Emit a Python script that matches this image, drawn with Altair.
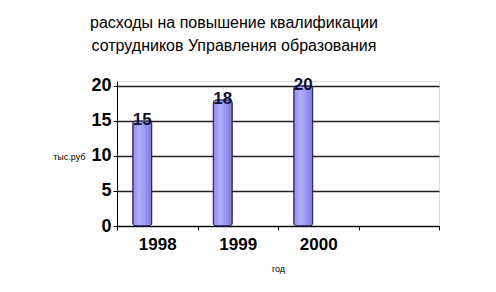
import altair as alt
import pandas as pd

years = ["1998", "1999", "2000", " "]
values = [15, 18, 20, None]
y_ticks = [0, 5, 10, 15, 20]

df = pd.DataFrame({"year": years, "value": values})
bars_df = df.dropna()

x_scale = alt.Scale(domain=years, paddingInner=0, paddingOuter=0)
y_scale = alt.Scale(domain=[0, 20.7], nice=False)

base = alt.Chart(bars_df).encode(
    x=alt.X("year:N", sort=years, scale=x_scale,
            axis=alt.Axis(title="год", titleFontSize=9, titleFont="Arial", titleFontWeight="normal",
                          titlePadding=12, labelFont="Arial", labelFontSize=17, labelFontWeight="bold",
                          labelColor="black", labelAngle=0, labelOffset=0, labelPadding=6,
                          tickBand="extent", tickColor="black", domainColor="black", tickSize=4, grid=False,
                          titleColor="black")),
    y=alt.Y("value:Q", scale=y_scale,
            axis=alt.Axis(values=y_ticks, labelOverlap=False, title="тыс.руб", titleAngle=0, titleFontSize=9,
                          titleFont="Arial", titleFontWeight="normal", titleColor="black",
                          titleAlign="right", titleX=-32, titleY=80,
                          labelFont="Arial", labelFontSize=18, labelFontWeight="bold",
                          labelColor="black", tickColor="black", domainColor="black", tickSize=4,
                          grid=True, gridColor="#222222", gridWidth=1.5, labelPadding=2)),
)

bars = base.mark_bar(
    width=19, xOffset=-15, stroke="#1a1a4a", strokeWidth=1, cornerRadius=3,
    color=alt.Gradient(gradient="linear", x1=0, x2=1, y1=0, y2=0,
                       stops=[alt.GradientStop(color="#8a8ae8", offset=0),
                              alt.GradientStop(color="#b0b0ff", offset=0.35),
                              alt.GradientStop(color="#7a7ae0", offset=1)])
)

labels = base.mark_text(
    xOffset=-15, baseline="middle", dy=-1, font="Arial", fontSize=17, fontWeight="bold", color="#101030"
).encode(text=alt.Text("value:Q"))

chart = alt.layer(bars, labels).properties(
    width=322, height=145,
    autosize="none",
    padding={"left": 117, "top": 81, "right": 57, "bottom": 66},
    title=alt.TitleParams(
        ["расходы на повышение квалификации", "сотрудников Управления образования"],
        font="Arial", fontSize=16, fontWeight="normal", color="black", anchor="middle",
        dx=-44, offset=22, lineHeight=23
    )
).configure_view(fill="#c0c0c0", stroke="#808080", strokeWidth=1).configure(background="white")

chart.save("out.html", embed_options={"renderer": "svg", "actions": False})
